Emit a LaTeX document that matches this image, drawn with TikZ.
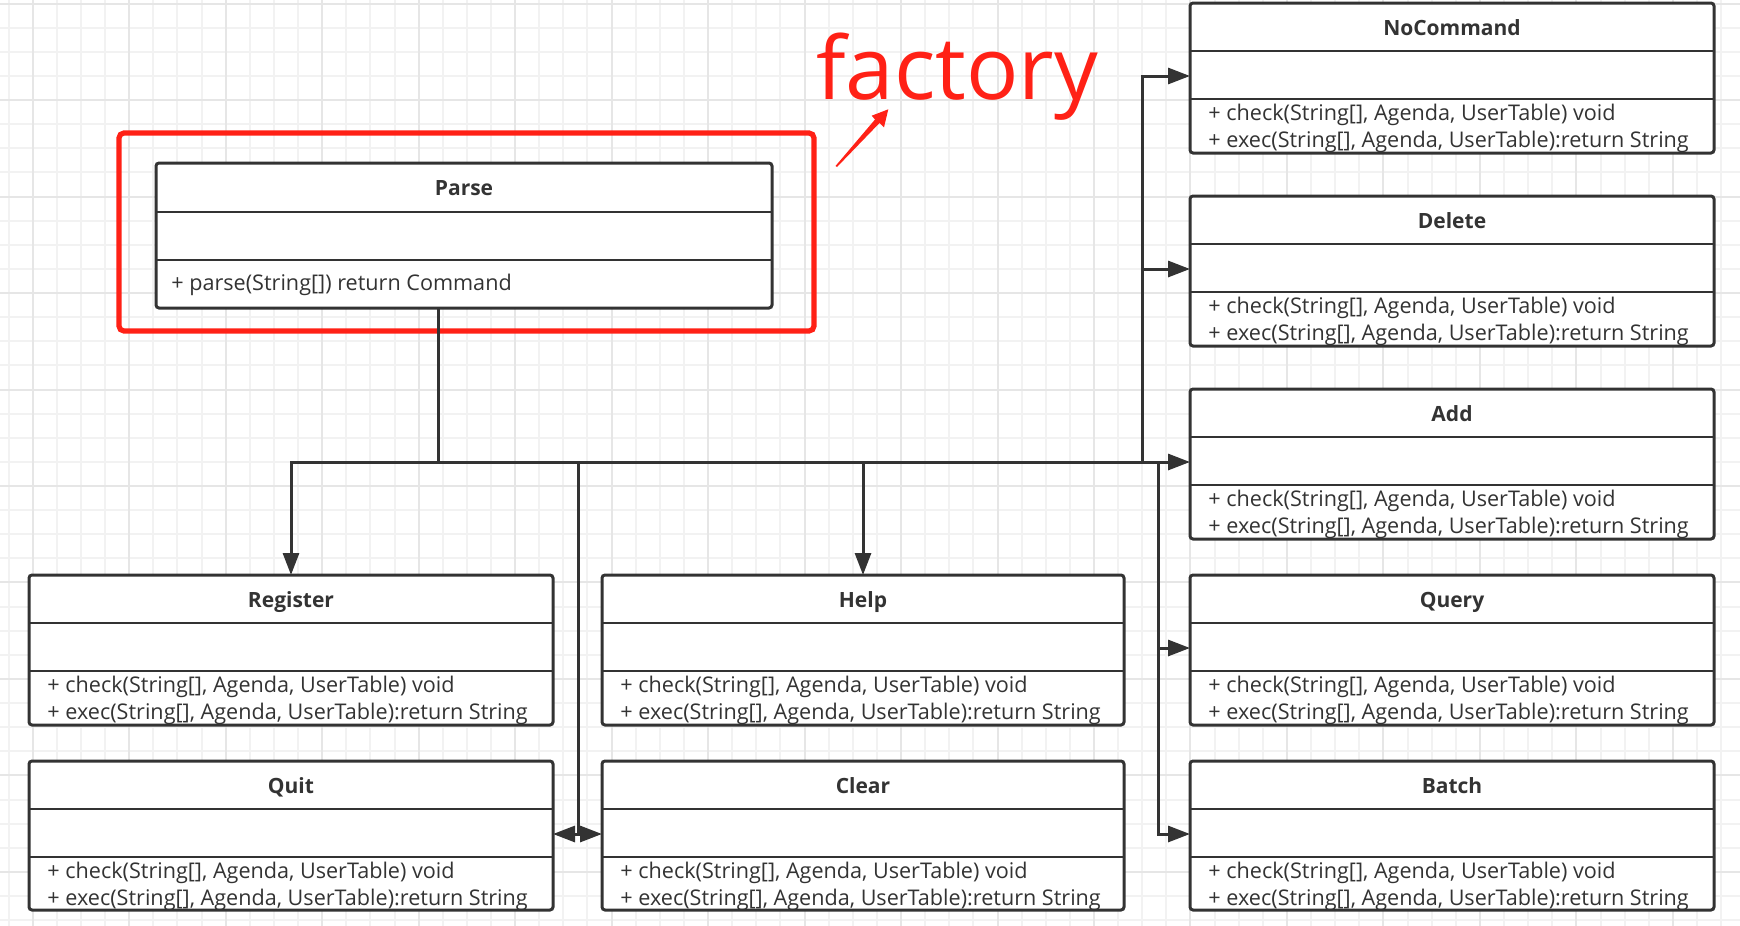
\documentclass[tikz,border=0pt]{standalone}
\usepackage{fontspec}
\setmainfont{Open Sans}
\usetikzlibrary{arrows.meta,calc}
\definecolor{ink}{HTML}{333333}
\definecolor{gridminor}{HTML}{F2F2F2}
\definecolor{gridmajor}{HTML}{E6E6E6}
\definecolor{annot}{HTML}{FF2116}
\tikzset{
  classbox/.style={draw=ink, line width=1.5pt, fill=white, rounded corners=1.5pt, inner sep=0pt, outer sep=0pt, rectangle},
  divider/.style={draw=ink, line width=1.4pt},
  titletext/.style={font=\fontsize{10.5pt}{12pt}\selectfont\bfseries, text=ink, inner sep=0pt},
  methtext/.style={font=\fontsize{10.8pt}{12pt}\selectfont, text=ink, inner sep=0pt},
  conn/.style={draw=ink, line width=1.5pt, -{Triangle[length=11pt,width=8pt]}},
  connline/.style={draw=ink, line width=1.5pt},
  gridthin/.style={draw=gridminor, line width=1pt},
  gridthick/.style={draw=gridmajor, line width=1pt},
}
\newcommand{\umlclass}[6]{%
  \node[classbox, minimum width=#4*0.5pt, minimum height=#5*0.5pt, anchor=north west] (#1) at (#2,#3) {};
  \draw[divider] ($(#1.north west)+(0,48)$) -- ($(#1.north east)+(0,48)$);
  \draw[divider] ($(#1.north west)+(0,96)$) -- ($(#1.north east)+(0,96)$);
  \node[titletext, anchor=base] (#1-title) at ($(#1.north)+(0,32)$) {#6};
  \coordinate (#1-w) at ($(#1.north west)+(0,73)$);
  \coordinate (#1-e) at ($(#1.north east)+(0,73)$);
}
\newcommand{\cmdmethods}[1]{%
  \node[methtext, anchor=base west] (#1-m1) at ($(#1.north west)+(18,117)$) {+ check(String[], Agenda, UserTable) void};
  \node[methtext, anchor=base west] (#1-m2) at ($(#1.north west)+(18,144)$) {+ exec(String[], Agenda, UserTable):return String};
}
\begin{document}
\begin{tikzpicture}[x=0.5pt,y=-0.5pt]
\useasboundingbox (0,0) rectangle (1740,926);
\fill[white] (0,0) rectangle (1740,926);
% grid
\begin{scope}
\clip (0,0) rectangle (1740,926);
\foreach \k in {0,...,72} { \draw[gridthin] ({8.6+24.12*\k},0) -- ++(0,926); }
\foreach \k in {0,...,38} { \draw[gridthin] (0,{3.6+24.12*\k}) -- ++(1740,0); }
\foreach \k in {0,...,18} { \draw[gridthick] ({32.7+96.48*\k},0) -- ++(0,926); }
\foreach \k in {0,...,9} { \draw[gridthick] (0,{3.6+96.48*\k}) -- ++(1740,0); }
\end{scope}

% Parse (factory)
\node[classbox, minimum width=616*0.5pt, minimum height=145*0.5pt, anchor=north west] (parse) at (156,163) {};
\draw[divider] ($(parse.north west)+(0,49)$) -- ($(parse.north east)+(0,49)$);
\draw[divider] ($(parse.north west)+(0,97)$) -- ($(parse.north east)+(0,97)$);
\node[titletext, anchor=base] (parse-title) at ($(parse.north)+(0,32)$) {Parse};
\node[methtext, anchor=base west] (parse-m1) at ($(parse.north west)+(15,127)$) {+ parse(String[]) return Command};

% red annotation
\node[draw=annot, line width=2.6pt, rounded corners=2.5pt, inner sep=0pt, outer sep=0pt, minimum width=695*0.5pt, minimum height=198*0.5pt, anchor=north west] (frame) at (119,133) {};
\node[font=\fontsize{43.5pt}{50pt}\selectfont, text=annot, inner sep=0pt, anchor=base west] (factory) at (816,99) {factory};
\fill[annot] (835.5,166) -- (875,119.5) -- (871.7,115.7) -- (888.3,109.3) -- (884,127.3) -- (879.5,123) -- (837,167) -- cycle;

% classes
\umlclass{noc}{1190}{3}{524}{150}{NoCommand}\cmdmethods{noc}
\umlclass{del}{1190}{196}{524}{150}{Delete}\cmdmethods{del}
\umlclass{add}{1190}{389}{524}{150}{Add}\cmdmethods{add}
\umlclass{query}{1190}{575}{524}{150}{Query}\cmdmethods{query}
\umlclass{batch}{1190}{761}{524}{149}{Batch}\cmdmethods{batch}
\umlclass{reg}{29}{575}{524}{150}{Register}\cmdmethods{reg}
\umlclass{quit}{29}{761}{524}{149}{Quit}\cmdmethods{quit}
\umlclass{help}{602}{575}{522}{150}{Help}\cmdmethods{help}
\umlclass{clear}{602}{761}{522}{149}{Clear}\cmdmethods{clear}

% connectors
\coordinate (pout) at ($(parse.south west)+(282,0)$);
\coordinate (bus) at (438,462);
\coordinate (qcj) at (578,462);
\coordinate (rj1) at (1142,462);
\coordinate (rj2) at (1158,462);
\draw[connline] (pout) -- (bus);
\draw[conn] (bus) -| (reg.north);
\draw[conn] (bus) -| (help.north);
\draw[conn] (bus) -- (qcj) |- (quit-e);
\draw[conn] (qcj) |- (clear-w);
\draw[conn] (bus) -- (rj1) |- (noc-w);
\draw[conn] (rj1) |- (del-w);
\draw[conn] (bus) -- (bus -| add.west);
\draw[conn] (rj2) |- (query-w);
\draw[conn] (rj2) |- (batch-w);
\end{tikzpicture}
\end{document}
